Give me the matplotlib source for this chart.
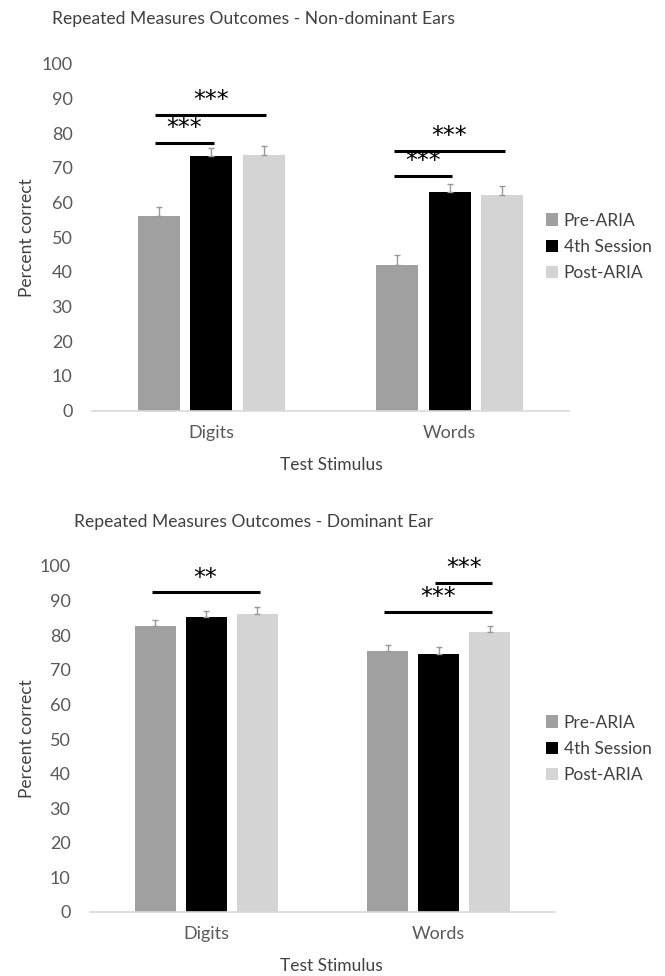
import matplotlib
matplotlib.use("Agg")
import matplotlib.pyplot as plt
import numpy as np

plt.rcParams['font.family'] = ['Lato', 'DejaVu Sans']

# Data
categories = ["Digits", "Words"]
series = ["Pre-ARIA", "4th Session", "Post-ARIA"]
colors = ["#a0a0a0", "#000000", "#d4d4d4"]

# Non-dominant ears (top) : rows = series, cols = categories
nondom_means = [[56.0, 42.1], [73.3, 63.1], [73.7, 62.2]]
nondom_err = [[2.7, 2.8], [2.5, 2.1], [2.5, 2.6]]
# Dominant ear (bottom)
dom_means = [[82.7, 75.4], [85.3, 74.7], [86.1, 81.0]]
dom_err = [[1.7, 1.8], [1.8, 2.0], [2.1, 1.8]]

# significance brackets: (category index, from series, to series, height, label)
nondom_sig = [(0, 0, 2, 85.2, "***"), (0, 0, 1, 77.2, "***"),
              (1, 0, 2, 74.8, "***"), (1, 0, 1, 67.7, "***")]
dom_sig = [(0, 0, 2, 92.4, "**"), (1, 1, 2, 95.2, "***"),
           (1, 0, 2, 86.8, "***")]

W, H = 665, 976
fig = plt.figure(figsize=(W / 100, H / 100), dpi=100)

txt = "#404040"
pitch = 0.22
width = 0.176


def draw_panel(rect, means, errs, sigs, title, title_y, xlab_y, leg_y):
    ax = fig.add_axes(rect)
    x = np.arange(len(categories))
    for i, s in enumerate(series):
        xs = x + (i - 1) * pitch
        ax.bar(xs, means[i], width=width, color=colors[i], label=s, zorder=2)
        ax.errorbar(xs, means[i], yerr=[np.zeros(len(categories)), errs[i]],
                    fmt="none", ecolor="#999999", elinewidth=1, capsize=2,
                    capthick=1, zorder=3)
    for c, a, b, y, lab in sigs:
        x0 = c + (a - 1) * pitch - 0.015
        x1 = c + (b - 1) * pitch + 0.01
        ax.plot([x0, x1], [y, y], color="black", lw=2.2, solid_capstyle="butt", zorder=4)
        ax.text((x0 + x1) / 2, y + 0.8, lab, ha="center", va="bottom",
                fontsize=17, family="DejaVu Sans")
    ax.set_xlim(-0.5, 1.5)
    ax.set_ylim(0, 100)
    ax.set_yticks(range(0, 101, 10))
    ax.set_xticks(x)
    ax.set_xticklabels(categories)
    ax.tick_params(length=0, labelsize=13, labelcolor="#595959")
    ax.tick_params(axis="y", pad=14)
    ax.tick_params(axis="x", pad=10)
    for sp in ["top", "right", "left"]:
        ax.spines[sp].set_visible(False)
    ax.spines["bottom"].set_color("#d9d9d9")
    ax.spines["bottom"].set_linewidth(1.2)
    fig.text(253 / W, 1 - title_y / H, title, ha="center", va="center",
             fontsize=12.6, color=txt)
    fig.text(331 / W, 1 - xlab_y / H, "Test Stimulus", ha="center", va="center",
             fontsize=12.5, color=txt)
    y_mid = rect[1] + rect[3] / 2
    fig.text(27 / W, y_mid, "Percent correct", rotation=90, ha="center",
             va="center", fontsize=12.5, color=txt)
    ax.legend(loc="center left", bbox_to_anchor=(530 / W, 1 - leg_y / H),
              bbox_transform=fig.transFigure, frameon=False, fontsize=12.5,
              handlelength=0.7, handleheight=0.7, handletextpad=0.35,
              labelspacing=0.6, labelcolor="#404040")
    return ax


draw_panel([92 / W, 1 - 410.7 / H, 477 / W, 347 / H], nondom_means, nondom_err,
           nondom_sig, "Repeated Measures Outcomes - Non-dominant Ears", 19, 465, 247)
draw_panel([90 / W, 1 - 912 / H, 465 / W, 346 / H], dom_means, dom_err,
           dom_sig, "Repeated Measures Outcomes - Dominant Ear", 522, 966, 749)

fig.savefig("out.png", dpi=100, facecolor="white")
